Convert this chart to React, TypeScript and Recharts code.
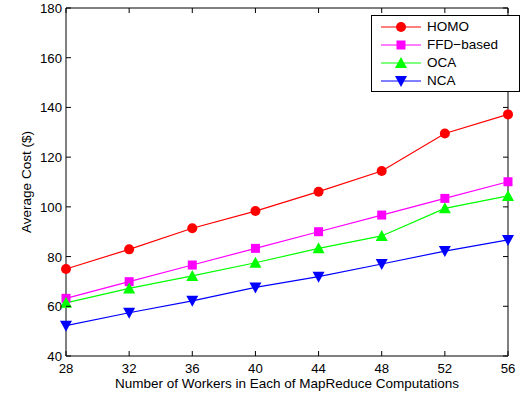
import { LineChart, Line, XAxis, YAxis } from 'recharts'

const workers = [28, 32, 36, 40, 44, 48, 52, 56]
const homo = [75.0, 82.9, 91.4, 98.3, 106.1, 114.4, 129.5, 137.2]
const ffd = [63.2, 69.9, 76.6, 83.3, 90.0, 96.7, 103.4, 110.1]
const oca = [61.4, 67.2, 72.2, 77.5, 83.3, 88.3, 99.4, 104.4]
const nca = [52.2, 57.4, 62.2, 67.6, 71.9, 77.0, 82.2, 86.7]

const xTicks = [28, 32, 36, 40, 44, 48, 52, 56]
const yTicks = [40, 60, 80, 100, 120, 140, 160, 180]

const data = workers.map((w, i) => ({ w, homo: homo[i], ffd: ffd[i], oca: oca[i], nca: nca[i] }))

const FONT = '"Liberation Sans", Arial, sans-serif'

type Shape = 'circle' | 'square' | 'up' | 'down'

// the first series is bound to the top/right axes (same domains) so that the box is drawn
const series: { key: string; name: string; color: string; shape: Shape; xId: string; yId: string }[] = [
  { key: 'homo', name: 'HOMO', color: '#ff0000', shape: 'circle', xId: 'top', yId: 'right' },
  { key: 'ffd', name: 'FFD\u2212based', color: '#ff00ff', shape: 'square', xId: 'bottom', yId: 'left' },
  { key: 'oca', name: 'OCA', color: '#00ff00', shape: 'up', xId: 'bottom', yId: 'left' },
  { key: 'nca', name: 'NCA', color: '#0000ff', shape: 'down', xId: 'bottom', yId: 'left' },
]

function marker(shape: Shape, cx: number, cy: number, color: string, key?: any) {
  if (shape === 'circle') return <circle key={key} cx={cx} cy={cy} r={5} fill={color} />
  if (shape === 'square') return <rect key={key} x={cx - 4.5} y={cy - 4.5} width={9} height={9} fill={color} />
  if (shape === 'up')
    return <polygon key={key} points={`${cx},${cy - 6} ${cx - 6},${cy + 5} ${cx + 6},${cy + 5}`} fill={color} />
  return <polygon key={key} points={`${cx},${cy + 6} ${cx - 6},${cy - 5} ${cx + 6},${cy - 5}`} fill={color} />
}

const BottomTick = (p: any) => (
  <g>
    <line x1={p.x} x2={p.x} y1={p.y} y2={p.y - 5} stroke="#000" />
    <text x={p.x} y={p.y + 17} textAnchor="middle" fontSize={13.2} fontFamily={FONT} fill="#000">
      {p.payload.value}
    </text>
  </g>
)

const LeftTick = (p: any) => (
  <g>
    <line x1={p.x} x2={p.x + 5} y1={p.y} y2={p.y} stroke="#000" />
    <text x={p.x - 4} y={p.y + 5} textAnchor="end" fontSize={13.2} fontFamily={FONT} fill="#000">
      {p.payload.value}
    </text>
  </g>
)

const TopTick = (p: any) => <line x1={p.x} x2={p.x} y1={p.y} y2={p.y + 5} stroke="#000" />
const RightTick = (p: any) => <line x1={p.x} x2={p.x - 5} y1={p.y} y2={p.y} stroke="#000" />

const LegendBox = () => (
  <div
    style={{
      position: 'absolute',
      left: 371,
      top: 15,
      border: '1px solid #000',
      background: '#fff',
      width: 147,
      height: 75,
      fontFamily: FONT,
      fontSize: 13.5,
      color: '#000',
    }}
  >
    {series.map((s, i) => (
      <div key={s.key} style={{ position: 'absolute', left: 0, top: 2 + i * 18, height: 18, width: 147 }}>
        <svg width={52} height={18} style={{ position: 'absolute', left: 6, top: 0 }}>
          <line x1={3} x2={43} y1={9} y2={9} stroke={s.color} strokeWidth={1.2} />
          {marker(s.shape, 23, 9, s.color)}
        </svg>
        <span style={{ position: 'absolute', left: 55, top: 1, lineHeight: '16px' }}>{s.name}</span>
      </div>
    ))}
  </div>
)

export default function App() {
  return (
    <div style={{ position: 'absolute', left: 0, top: 0, width: 529, height: 397, background: '#fff' }}>
      <LineChart width={529} height={397} data={data} margin={{ top: 7, right: 20, bottom: 0, left: 0 }}>
        <XAxis
          xAxisId="bottom"
          dataKey="w"
          type="number"
          domain={[28, 56]}
          ticks={xTicks}
          height={41}
          tickSize={0}
          tickMargin={0}
          tickLine={false}
          axisLine={{ stroke: '#000' }}
          tick={BottomTick}
          interval={0}
          label={{
            value: 'Number of Workers in Each of MapReduce Computations',
            position: 'insideBottom',
            offset: 9,
            fontSize: 13.5,
            fontFamily: FONT,
            fill: '#000',
          }}
        />
        <XAxis
          xAxisId="top"
          orientation="top"
          dataKey="w"
          type="number"
          domain={[28, 56]}
          ticks={xTicks}
          height={1}
          tickSize={0}
          tickMargin={0}
          tickLine={false}
          axisLine={{ stroke: '#000' }}
          tick={TopTick}
          interval={0}
        />
        <YAxis
          yAxisId="left"
          type="number"
          domain={[40, 180]}
          ticks={yTicks}
          width={66}
          tickSize={0}
          tickMargin={0}
          tickLine={false}
          axisLine={{ stroke: '#000' }}
          tick={LeftTick}
          interval={0}
          label={{
            value: 'Average Cost ($)',
            angle: -90,
            position: 'insideLeft',
            offset: 26,
            style: { textAnchor: 'middle' },
            fontSize: 13.5,
            fontFamily: FONT,
            fill: '#000',
          }}
        />
        <YAxis
          yAxisId="right"
          orientation="right"
          type="number"
          domain={[40, 180]}
          ticks={yTicks}
          width={1}
          tickSize={0}
          tickMargin={0}
          tickLine={false}
          axisLine={{ stroke: '#000' }}
          tick={RightTick}
          interval={0}
        />
        {series.map((s) => (
          <Line
            key={s.key}
            xAxisId={s.xId}
            yAxisId={s.yId}
            dataKey={s.key}
            name={s.name}
            stroke={s.color}
            strokeWidth={1.2}
            type="linear"
            isAnimationActive={false}
            dot={(p: any) => marker(s.shape, p.cx, p.cy, s.color, p.index)}
            activeDot={false}
          />
        ))}
      </LineChart>
      <LegendBox />
    </div>
  )
}
